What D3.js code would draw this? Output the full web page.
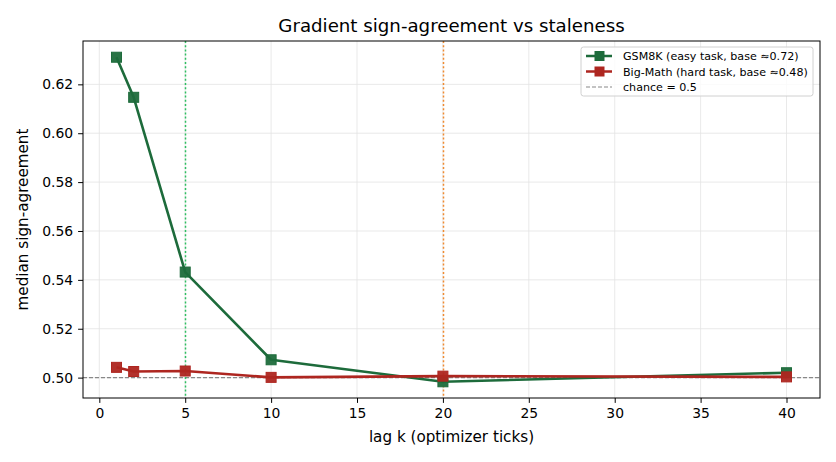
<!DOCTYPE html>
<html><head><meta charset="utf-8">
<script src="https://cdn.jsdelivr.net/npm/d3@7"></script>
<style>body{margin:0;background:#fff}svg{font-family:"DejaVu Sans",sans-serif}</style>
</head><body><svg id="c" width="836" height="462"></svg>
<script>
const lags = [1, 2, 5, 10, 20, 40];
const gsm8k = [0.6311, 0.6147, 0.5432, 0.5073, 0.4983, 0.5020];
const bigmath = [0.5042, 0.5025, 0.5027, 0.5001, 0.5006, 0.5003];
const xTicks = [0, 5, 10, 15, 20, 25, 30, 35, 40];
const yTicks = [0.50, 0.52, 0.54, 0.56, 0.58, 0.60, 0.62];
const vlines = [{x: 5, color: "#2fbf62"}, {x: 20, color: "#f08a30"}];
const chance = 0.5;
const seriesNames = ["GSM8K (easy task, base \u22480.72)", "Big-Math (hard task, base \u22480.48)", "chance = 0.5"];
const colors = ["#1d6b3b", "#ae2620"];

const svg = d3.select("#c");
const L = 83, R = 820, T = 41, B = 398;
const x = d3.scaleLinear().domain([-0.95, 41.95]).range([L, R]);
const allY = gsm8k.concat(bigmath);
const ymin = d3.min(allY), ymax = d3.max(allY), pad = (ymax - ymin) * 0.05;
const y = d3.scaleLinear().domain([ymin - pad, ymax + pad]).range([B, T]);

// grid
const g = svg.append("g");
g.selectAll(".gx").data(xTicks).enter().append("line")
  .attr("x1", d => x(d)).attr("x2", d => x(d)).attr("y1", T).attr("y2", B)
  .attr("stroke", "#e3e3e3").attr("stroke-width", 0.8);
g.selectAll(".gy").data(yTicks).enter().append("line")
  .attr("y1", d => y(d)).attr("y2", d => y(d)).attr("x1", L).attr("x2", R)
  .attr("stroke", "#e3e3e3").attr("stroke-width", 0.8);

// chance line
svg.append("line").attr("x1", L).attr("x2", R).attr("y1", y(chance)).attr("y2", y(chance))
  .attr("stroke", "#888").attr("stroke-width", 1.1).attr("stroke-dasharray", "4,2");
// vlines
vlines.forEach(v => {
  const xv = Math.round(x(v.x)) + 0.5;
  svg.append("line").attr("x1", xv).attr("x2", xv).attr("y1", T).attr("y2", B)
    .attr("stroke", v.color).attr("stroke-width", 1.5).attr("stroke-dasharray", "2,2.2");
});

const line = d3.line().x((d, i) => x(lags[i])).y(d => y(d));
[gsm8k, bigmath].forEach((s, k) => {
  svg.append("path").attr("d", line(s)).attr("fill", "none")
    .attr("stroke", colors[k]).attr("stroke-width", 2.6).attr("stroke-linejoin", "round");
  svg.selectAll(".m" + k).data(s).enter().append("rect")
    .attr("x", (d, i) => x(lags[i]) - 5).attr("y", d => y(d) - 5)
    .attr("width", 10).attr("height", 10).attr("fill", colors[k]).attr("fill-opacity", 0.95)
    .attr("stroke", colors[k]).attr("stroke-width", 1);
});

// frame
svg.append("rect").attr("x", L).attr("y", T).attr("width", R - L).attr("height", B - T)
  .attr("fill", "none").attr("stroke", "#000").attr("stroke-width", 1);

// axes
const xa = svg.append("g").attr("transform", `translate(0,${B})`)
  .call(d3.axisBottom(x).tickValues(xTicks).tickSize(4.9).tickPadding(4.9).tickFormat(d3.format("d")));
const ya = svg.append("g").attr("transform", `translate(${L},0)`)
  .call(d3.axisLeft(y).tickValues(yTicks).tickSize(4.9).tickPadding(4.9).tickFormat(d3.format(".2f")));
[xa, ya].forEach(a => {
  a.select(".domain").remove();
  a.selectAll("text").attr("font-size", 13.9).attr("fill", "#000").attr("font-family", "DejaVu Sans");
  a.selectAll("line").attr("stroke", "#000");
});

svg.append("text").attr("x", (L + R) / 2).attr("y", 32).attr("text-anchor", "middle")
  .attr("font-size", 18.2).text("Gradient sign-agreement vs staleness");
svg.append("text").attr("x", (L + R) / 2).attr("y", 442).attr("text-anchor", "middle")
  .attr("font-size", 15.2).text("lag k (optimizer ticks)");
svg.append("text").attr("transform", `translate(28,${(T + B) / 2}) rotate(-90)`).attr("text-anchor", "middle")
  .attr("font-size", 15.2).text("median sign-agreement");

// legend
const lg = svg.append("g").attr("transform", "translate(581,47)");
lg.append("rect").attr("width", 232).attr("height", 49).attr("rx", 2.5).attr("fill", "#fff")
  .attr("fill-opacity", 0.8).attr("stroke", "#d0d0d0");
[0, 1, 2].forEach(i => {
  const yy = 9 + i * 15.5;
  if (i < 2) {
    lg.append("line").attr("x1", 5).attr("x2", 31).attr("y1", yy).attr("y2", yy)
      .attr("stroke", colors[i]).attr("stroke-width", 2.5);
    lg.append("rect").attr("x", 13.5).attr("y", yy - 5).attr("width", 10).attr("height", 10).attr("fill", colors[i]);
  } else {
    lg.append("line").attr("x1", 5).attr("x2", 31).attr("y1", yy).attr("y2", yy)
      .attr("stroke", "#888").attr("stroke-width", 1.1).attr("stroke-dasharray", "4,2");
  }
  lg.append("text").attr("x", 42).attr("y", yy + 4).attr("font-size", 11.1).text(seriesNames[i]);
});
</script></body></html>
